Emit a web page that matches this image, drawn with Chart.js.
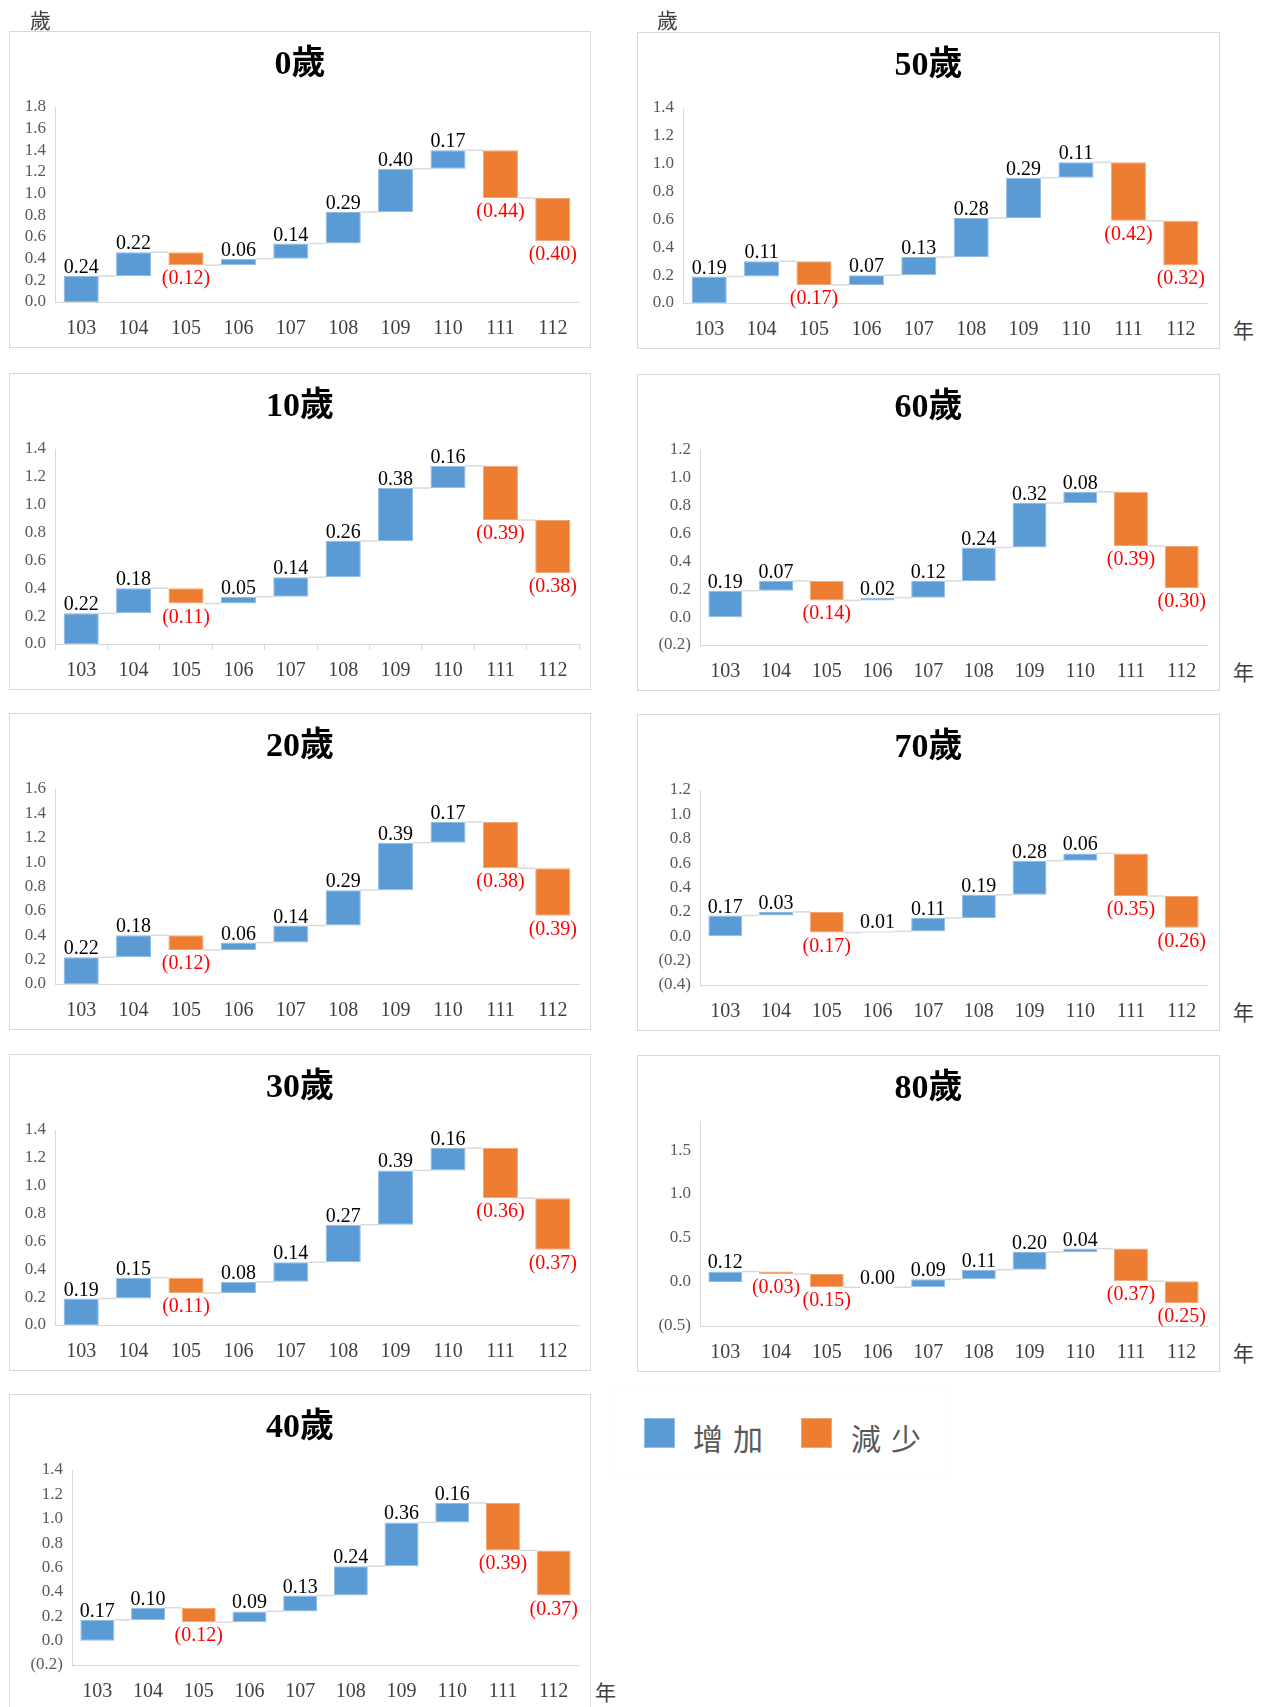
<!DOCTYPE html>
<html lang="zh-Hant">
<head>
<meta charset="utf-8">
<script src="https://cdn.jsdelivr.net/npm/chart.js@4.4.1/dist/chart.umd.min.js"></script>
<style>
  body { margin: 0; width: 1266px; height: 1707px; background: #fff; position: relative; overflow: hidden; }
  .panel { position: absolute; box-sizing: border-box; border: 1px solid #d9d9d9; }
  canvas { position: absolute; }
  .unit { position: absolute; font-family: "Noto Sans CJK TC", sans-serif; font-size: 21px; line-height: 1; color: #404040; }
  .legend { position: absolute; left: 608px; top: 1385px; width: 337px; height: 94px; box-sizing: border-box; border: 1px solid #fbfbfb; }
  .sw { position: absolute; width: 31px; height: 30px; box-sizing: border-box; }
  .lg { position: absolute; font-family: "Noto Sans CJK TC", sans-serif; font-size: 30px; letter-spacing: 10px; color: #595959; line-height: 1; }
</style>
</head>
<body>
<div id="root"></div>
<div class="unit" style="left:30px; top:9px;">歲</div>
<div class="unit" style="left:657px; top:9px;">歲</div>
<div class="unit" style="left:1233px; top:319px;">年</div>
<div class="unit" style="left:1233px; top:661px;">年</div>
<div class="unit" style="left:1233px; top:1001px;">年</div>
<div class="unit" style="left:1233px; top:1342px;">年</div>
<div class="unit" style="left:595px; top:1681px;">年</div>
<div class="legend"></div>
<div class="sw" style="left:644px; top:1418px; background:#5b9bd5; border:1px solid #8fbbe4;"></div>
<div class="lg" style="left:693px; top:1422px;">增加</div>
<div class="sw" style="left:801px; top:1418px; background:#ed7d31; border:1px solid #f3a574;"></div>
<div class="lg" style="left:851px; top:1422px;">減少</div>
<script>
const years = ["103", "104", "105", "106", "107", "108", "109", "110", "111", "112"];
const titles = ["0歲", "10歲", "20歲", "30歲", "40歲", "50歲", "60歲", "70歲", "80歲"];

// yearly change of life expectancy (years)
const age0 = [0.24, 0.22, -0.12, 0.06, 0.14, 0.29, 0.40, 0.17, -0.44, -0.40];
const age10 = [0.22, 0.18, -0.11, 0.05, 0.14, 0.26, 0.38, 0.16, -0.39, -0.38];
const age20 = [0.22, 0.18, -0.12, 0.06, 0.14, 0.29, 0.39, 0.17, -0.38, -0.39];
const age30 = [0.19, 0.15, -0.11, 0.08, 0.14, 0.27, 0.39, 0.16, -0.36, -0.37];
const age40 = [0.17, 0.10, -0.12, 0.09, 0.13, 0.24, 0.36, 0.16, -0.39, -0.37];
const age50 = [0.19, 0.11, -0.17, 0.07, 0.13, 0.28, 0.29, 0.11, -0.42, -0.32];
const age60 = [0.19, 0.07, -0.14, 0.02, 0.12, 0.24, 0.32, 0.08, -0.39, -0.30];
const age70 = [0.17, 0.03, -0.17, 0.01, 0.11, 0.19, 0.28, 0.06, -0.35, -0.26];
const age80 = [0.12, -0.03, -0.15, 0.00, 0.09, 0.11, 0.20, 0.04, -0.37, -0.25];

// y axis [min, max, step]
const axis0 = [0, 1.8, 0.2];
const axis10 = [0, 1.4, 0.2];
const axis20 = [0, 1.6, 0.2];
const axis30 = [0, 1.4, 0.2];
const axis40 = [-0.2, 1.4, 0.2];
const axis50 = [0, 1.4, 0.2];
const axis60 = [-0.2, 1.2, 0.2];
const axis70 = [-0.4, 1.2, 0.2];
const axis80 = [-0.5, 1.83, 0.5];

const panels = [
  { title: titles[0], data: age0, axis: axis0, left: 9, top: 31, width: 582 },
  { title: titles[1], data: age10, axis: axis10, left: 9, top: 373, width: 582, ticks: true },
  { title: titles[2], data: age20, axis: axis20, left: 9, top: 713, width: 582 },
  { title: titles[3], data: age30, axis: axis30, left: 9, top: 1054, width: 582 },
  { title: titles[4], data: age40, axis: axis40, left: 9, top: 1394, width: 582 },
  { title: titles[5], data: age50, axis: axis50, left: 637, top: 32, width: 583 },
  { title: titles[6], data: age60, axis: axis60, left: 637, top: 374, width: 583 },
  { title: titles[7], data: age70, axis: axis70, left: 637, top: 714, width: 583 },
  { title: titles[8], data: age80, axis: axis80, left: 637, top: 1055, width: 583, plotTop: 66 },
];

const PANEL_H = 317;
const SERIF = "'Liberation Serif', 'Noto Sans CJK TC', serif";

function labelText(v) {
  return v < 0 ? "(" + Math.abs(v).toFixed(2) + ")" : v.toFixed(2);
}

function tickText(v) {
  return v < -1e-9 ? "(" + Math.abs(v).toFixed(1) + ")" : Math.abs(v).toFixed(1);
}

const waterfallPlugin = {
  id: "waterfall",
  beforeDatasetsDraw(chart) {
    const ctx = chart.ctx;
    const meta = chart.getDatasetMeta(0);
    const ranges = chart.data.datasets[0].data;
    const yScale = chart.scales.y;
    ctx.save();
    ctx.strokeStyle = "#d9d9d9";
    ctx.lineWidth = 1.5;
    for (let i = 0; i < meta.data.length - 1; i++) {
      const a = meta.data[i];
      const b = meta.data[i + 1];
      const y = yScale.getPixelForValue(ranges[i][1]);
      ctx.beginPath();
      ctx.moveTo(a.x + a.width / 2, y);
      ctx.lineTo(b.x - b.width / 2, y);
      ctx.stroke();
    }
    ctx.restore();
  },
  afterDatasetsDraw(chart) {
    const ctx = chart.ctx;
    const meta = chart.getDatasetMeta(0);
    const changes = chart.data.datasets[0].changes;
    ctx.save();
    ctx.font = "20px " + SERIF;
    ctx.textAlign = "center";
    ctx.textBaseline = "alphabetic";
    meta.data.forEach((bar, i) => {
      const v = changes[i];
      const top = Math.min(bar.y, bar.base);
      const bottom = Math.max(bar.y, bar.base);
      if (v >= 0) {
        ctx.fillStyle = "#000000";
        ctx.fillText(labelText(v), bar.x, top - 3);
      } else {
        ctx.fillStyle = "#ff0000";
        ctx.fillText(labelText(v), bar.x, bottom + 19);
      }
    });
    ctx.restore();
  },
};

function createPanel(p) {
  const root = document.querySelector("#root");
  const box = document.createElement("div");
  box.className = "panel";
  box.style.left = p.left + "px";
  box.style.top = p.top + "px";
  box.style.width = p.width + "px";
  box.style.height = PANEL_H + "px";
  root.appendChild(box);

  const canvas = document.createElement("canvas");
  canvas.width = p.width;
  canvas.height = PANEL_H;
  canvas.style.left = p.left + "px";
  canvas.style.top = p.top + "px";
  root.appendChild(canvas);

  const ranges = [];
  let level = 0;
  for (let i = 0; i < p.data.length; i++) {
    ranges.push([level, level + p.data[i]]);
    level += p.data[i];
  }

  const hasParen = p.axis[0] < 0;
  const plotTop = p.plotTop || 76;
  const titleSize = 34;
  const titleTopPad = 14;
  const titleBottomPad = plotTop - titleTopPad - titleSize * 1.2;

  new Chart(canvas.getContext("2d"), {
    type: "bar",
    data: {
      labels: years,
      datasets: [{
        data: ranges,
        changes: p.data,
        backgroundColor: p.data.map(v => v >= 0 ? "#5b9bd5" : "#ed7d31"),
        borderColor: p.data.map(v => v >= 0 ? "#8fbbe4" : "#f3a574"),
        borderWidth: 1,
        borderSkipped: false,
        barPercentage: 0.67,
        categoryPercentage: 1,
      }],
    },
    options: {
      responsive: false,
      animation: false,
      layout: { padding: 0 },
      plugins: {
        legend: { display: false },
        tooltip: { enabled: false },
        title: {
          display: true,
          text: p.title,
          color: "#000000",
          font: { family: SERIF, size: titleSize, weight: "bold" },
          padding: { top: titleTopPad, bottom: titleBottomPad },
        },
      },
      scales: {
        x: {
          grid: {
            display: !!p.ticks,
            drawOnChartArea: false,
            drawTicks: !!p.ticks,
            tickLength: 6,
            color: "#d9d9d9",
          },
          border: { display: true, color: "#d9d9d9", width: 1 },
          ticks: {
            padding: p.ticks ? 9 : 15,
            color: "#404040",
            font: { family: SERIF, size: 20 },
            maxRotation: 0,
          },
          afterFit(scale) { scale.height = PANEL_H - 271; },
        },
        y: {
          min: p.axis[0],
          max: p.axis[1],
          grid: { display: false, drawTicks: false },
          border: { display: true, color: "#d9d9d9", width: 1 },
          ticks: {
            stepSize: p.axis[2],
            includeBounds: false,
            autoSkip: false,
            padding: 9,
            color: "#595959",
            font: { family: SERIF, size: 17 },
            callback: v => tickText(v),
          },
          afterFit(scale) { scale.width = hasParen ? 63 : 46; },
        },
        // empty right margin so the title stays centred on the whole panel
        spacer: {
          type: "linear",
          position: "right",
          grid: { display: false, drawTicks: false },
          border: { display: false },
          ticks: { display: false },
          afterFit(scale) { scale.width = p.width - 570; },
        },
      },
    },
    plugins: [waterfallPlugin],
  });
}

panels.forEach(createPanel);
</script>
</body>
</html>
